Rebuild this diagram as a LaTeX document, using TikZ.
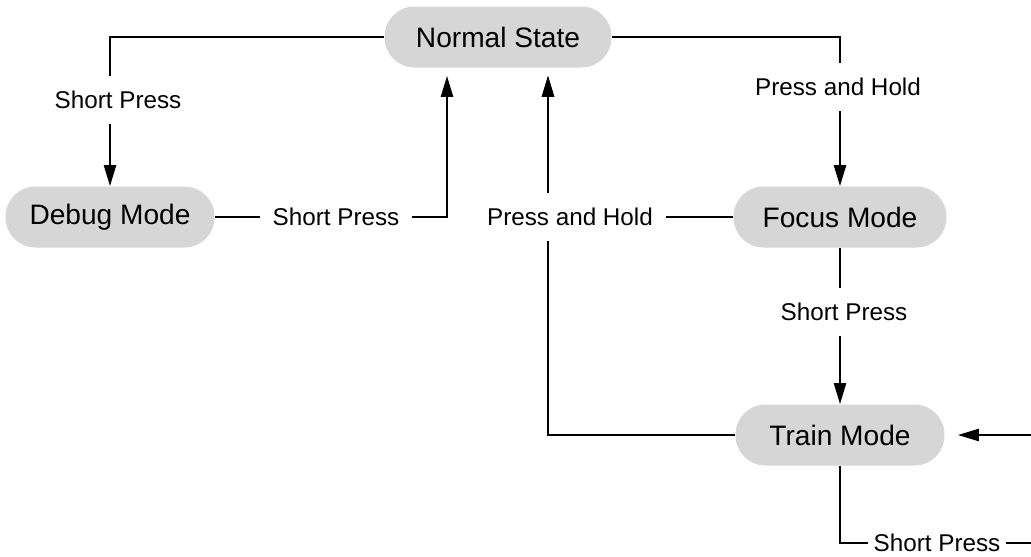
\documentclass[tikz,border=0pt]{standalone}
\usepackage{fontspec}
\setmainfont{Liberation Sans}
\usetikzlibrary{arrows.meta}
\tikzset{
  mode/.style={fill=black!16, rounded corners=0.6cm, minimum width=4.18cm, minimum height=1.22cm, inner sep=0pt, font=\fontsize{16}{19}\selectfont},
  lbl/.style={fill=white, inner xsep=0.26cm, inner ysep=0.3cm, font=\fontsize{13.8}{16}\selectfont},
  trans/.style={line width=1.3pt, -{Triangle[length=0.42cm,width=0.24cm]}},
}
\begin{document}
\begin{tikzpicture}[x=0.02cm,y=-0.02cm]
\useasboundingbox (0,0) rectangle (1031,556);
\clip (0,0) rectangle (1031,556);
\node[mode, minimum width=4.54cm] (normal) at (498,37) {Normal State};
\node[mode] (debug) at (110,217) {Debug Mode};
\node[mode, minimum width=4.26cm] (focus) at (840,217) {Focus Mode};
\node[mode] (train) at (840,435) {Train Mode};

\draw[trans] (normal.west) -| (debug.north);
\draw[trans, shorten >=0.16cm] (debug.east) -| ([xshift=-1.02cm]normal.south);
\draw[trans] (normal.east) -| (focus.north);
\draw[trans, shorten >=0.16cm] (train.west) -| ([xshift=1cm]normal.south);
\draw[trans, shorten >=0.16cm] (focus.west) -| ([xshift=1cm]normal.south);
\draw[trans] (focus.south) -- (train.north);
\draw[trans, shorten >=0.26cm] (train.south) |- (1060,543) |- (train.east);

\node[lbl] (sp1) at (118,100) {Short Press};
\node[lbl] (sp2) at (336,217) {Short Press};
\node[lbl] (ph1) at (838,87) {Press and Hold};
\node[lbl] (ph2) at (570,217) {Press and Hold};
\node[lbl] (sp3) at (844,312) {Short Press};
\node[lbl, inner xsep=3pt] (sp4) at (937,543) {Short Press};
\end{tikzpicture}
\end{document}
